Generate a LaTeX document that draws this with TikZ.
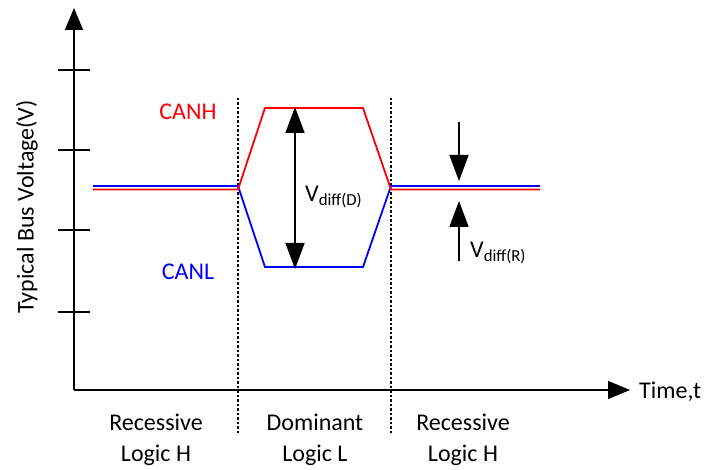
\documentclass[tikz,border=0pt]{standalone}
\usepackage{fontspec}
\setmainfont{Carlito}
\usetikzlibrary{arrows.meta}
\tikzset{
  axis/.style={line width=1.6pt},
  hline/.style={red, line width=1.8pt},
  lline/.style={blue, line width=1.8pt},
  sep/.style={line width=1.2pt, dash pattern=on 2.5pt off 2pt},
  lbl/.style={font=\fontsize{24}{28}\selectfont, inner sep=0pt},
  bigarrow/.style={line width=1.6pt, -{Triangle[length=26pt,width=19pt]}},
}
\begin{document}
\begin{tikzpicture}[x=1pt,y=-1pt]
\useasboundingbox (0,0) rectangle (705,470);
% axes
\coordinate (O) at (74,390);
\coordinate (Ytop) at (74,8);
\coordinate (Xend) at (630,390);
\draw[axis, -{Triangle[length=22pt,width=18pt]}] (O) -- (Ytop);
\draw[axis, -{Triangle[length=22pt,width=18pt]}] (O) -- (Xend);
\foreach \y in {70,150,230,312} \draw[axis] (58,\y) -- (90,\y);
\node[lbl, anchor=west] (tl) at (639,392) {Time,t};
\node[lbl, rotate=90] (yl) at (27,207) {Typical Bus Voltage(V)};
% separators
\coordinate (d1t) at (238,98); \coordinate (d1b) at (238,434);
\coordinate (d2t) at (391,98); \coordinate (d2b) at (391,434);
\draw[sep] (d1t) -- (d1b);
\draw[sep] (d2t) -- (d2b);
% signals
\draw[lline] (93,186) -- (238,186) -- (265,267) -- (363,267) -- (391,186) -- (540,186);
\draw[hline] (93,189.5) -- (238,189.5) -- (265,108) -- (363,108) -- (391,189.5) -- (540,189.5);
\node[lbl, red] (canh) at (188,112) {CANH};
\node[lbl, blue] (canl) at (188,272) {CANL};
% Vdiff(D)
\coordinate (a1) at (295,188);
\coordinate (a1t) at (295,107);
\coordinate (a1b) at (295,269);
\draw[bigarrow] (a1) -- (a1t);
\draw[bigarrow] (a1) -- (a1b);
\node[lbl, anchor=west] (vd) at (305,197) {V\textsubscript{diff(D)}};
% Vdiff(R)
\coordinate (r1s) at (459,122); \coordinate (r1e) at (459,181);
\coordinate (r2s) at (459,261); \coordinate (r2e) at (459,201);
\draw[bigarrow] (r1s) -- (r1e);
\draw[bigarrow] (r2s) -- (r2e);
\node[lbl, anchor=west] (vr) at (470,253) {V\textsubscript{diff(R)}};
% region labels
\node[lbl, align=center] (reg1) at (156,440) {Recessive\\[3pt]Logic H};
\node[lbl, align=center] (reg2) at (315,440) {Dominant\\[3pt]Logic L};
\node[lbl, align=center] (reg3) at (463,440) {Recessive\\[3pt]Logic H};
\end{tikzpicture}
\end{document}
